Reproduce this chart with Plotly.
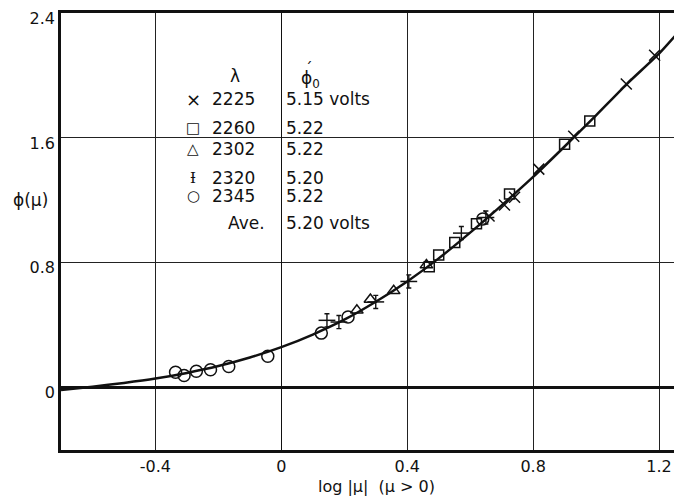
import plotly.graph_objects as go

# ---- data ----
curve_x = [-0.70, -0.60, -0.50, -0.40, -0.30, -0.20, -0.10, 0.00, 0.10, 0.20, 0.30,
           0.40, 0.50, 0.60, 0.70, 0.80, 0.90, 1.00, 1.10, 1.20, 1.28]
curve_y = [-0.015, 0.006, 0.030, 0.058, 0.094, 0.138, 0.193, 0.259, 0.340, 0.435, 0.550,
           0.680, 0.828, 0.993, 1.168, 1.350, 1.545, 1.745, 1.950, 2.140, 2.320]

x2225 = [0.66, 0.709, 0.741, 0.818, 0.929, 1.096, 1.186]
y2225 = [1.10, 1.17, 1.22, 1.40, 1.611, 1.946, 2.13]

x2260 = [0.47, 0.50, 0.551, 0.62, 0.725, 0.90, 0.98]
y2260 = [0.775, 0.849, 0.93, 1.05, 1.24, 1.56, 1.708]

x2302 = [0.24, 0.283, 0.357, 0.461]
y2302 = [0.495, 0.564, 0.62, 0.785]

x2320 = [0.145, 0.183, 0.30, 0.405, 0.572, 0.65]
y2320 = [0.431, 0.42, 0.549, 0.68, 0.99, 1.09]

x2345 = [-0.336, -0.309, -0.270, -0.225, -0.167, -0.043, 0.127, 0.212, 0.64]
y2345 = [0.098, 0.077, 0.105, 0.114, 0.135, 0.201, 0.349, 0.452, 1.08]

x_ticks = [-0.4, 0, 0.4, 0.8, 1.2]
x_ticktext = ["-0.4", "0", "0.4", "0.8", "1.2"]
y_ticks = [0, 0.8, 1.6, 2.4]
y_ticktext = ["0", "0.8", "1.6", "2.4"]

table_symbols = ["×", "□", "△", "Ɨ", "○"]
table_lambda = ["2225", "2260", "2302", "2320", "2345"]
table_phi0 = ["5.15 volts", "5.22", "5.22", "5.20", "5.22"]
table_ave = "5.20 volts"

FONT = "DejaVu Sans"
INK = "#111111"

fig = go.Figure()

fig.add_trace(go.Scatter(x=curve_x, y=curve_y, mode="lines",
                         line=dict(color=INK, width=2.5, shape="spline", smoothing=0.6),
                         hoverinfo="skip"))

def mk(sym, size):
    return dict(symbol=sym, size=size, color=INK, line=dict(color=INK, width=1.5))

fig.add_trace(go.Scatter(x=x2225, y=y2225, mode="markers", marker=mk("x-thin-open", 11)))
fig.add_trace(go.Scatter(x=x2260, y=y2260, mode="markers", marker=mk("square-open", 10)))
fig.add_trace(go.Scatter(x=x2302, y=y2302, mode="markers", marker=mk("triangle-up-open", 11)))
fig.add_trace(go.Scatter(x=x2320, y=y2320, mode="markers", marker=mk("line-ew-open", 12),
                         error_y=dict(type="constant", value=0.042, width=2.5,
                                      thickness=1.4, color=INK)))
fig.add_trace(go.Scatter(x=x2345, y=y2345, mode="markers", marker=mk("circle-open", 12)))

# plot area on screen (the page body adds an 8px offset): left 61, top 13, width 621, height 437
def px(xp):
    return (xp - 61) / 621.0

def py(yp):
    return (450 - yp) / 437.0

def note(text, xs, ys, size=17, family=FONT, xanchor="center"):
    return dict(text=text, x=px(xs), y=py(ys), xref="paper", yref="paper",
                xanchor=xanchor, yanchor="middle", showarrow=False,
                font=dict(size=size, family=family, color=INK))

ann = []
ann.append(note("λ", 235, 76))
ann.append(note("ϕ<sub>0</sub>", 299, 80, xanchor="left"))
ann.append(note("ˊ", 309, 69, size=15))
rows_y = [99, 128, 149, 178.5, 196]
sym_sizes = [18, 15, 15, 15, 15]
sym_fonts = [FONT, FONT, FONT, "DejaVu Serif", FONT]
for s, lam, phi, yy, ss, sf in zip(table_symbols, table_lambda, table_phi0, rows_y, sym_sizes, sym_fonts):
    ann.append(note(s, 193, yy, size=ss, family=sf))
    ann.append(note(lam, 210, yy, xanchor="left"))
    ann.append(note(phi, 284, yy, xanchor="left"))
ann.append(note("Ave.", 267, 223, xanchor="right"))
ann.append(note(table_ave, 284, 223, xanchor="left"))
# axis titles
ann.append(note("ϕ(μ)", 30, 200))
ann.append(note("log |μ|  (μ > 0)", 376, 486, size=16))

fig.update_layout(
    width=682, height=500,
    margin=dict(l=53, r=8, t=5, b=58, autoexpand=False),
    paper_bgcolor="white", plot_bgcolor="white",
    showlegend=False,
    annotations=ann,
    font=dict(family=FONT, color=INK, size=16),
    xaxis=dict(range=[-0.7, 1.273], tickvals=x_ticks, ticktext=x_ticktext,
               automargin=False,
               showgrid=True, gridcolor="#222222", gridwidth=1,
               zeroline=True, zerolinecolor="#111111", zerolinewidth=1.4,
               showline=True, linecolor=INK, linewidth=2.5, mirror=True,
               ticks="", tickfont=dict(size=16, family=FONT, color=INK)),
    yaxis=dict(range=[-0.4, 2.4005], tickvals=y_ticks, ticktext=y_ticktext,
               automargin=False, ticklabeloverflow="allow", ticklabelshift=5,
               showgrid=True, gridcolor="#222222", gridwidth=1.2,
               zeroline=True, zerolinecolor=INK, zerolinewidth=2.5,
               showline=True, linecolor=INK, linewidth=2.5,
               ticks="", tickfont=dict(size=16, family=FONT, color=INK)),
)

fig.write_html("out.html")
